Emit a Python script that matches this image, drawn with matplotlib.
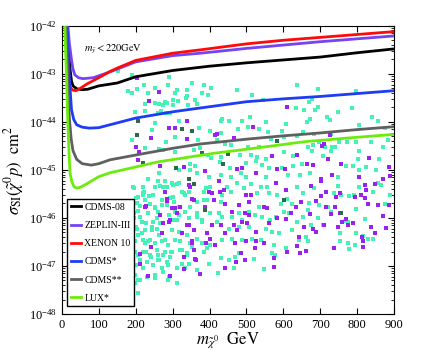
import matplotlib
matplotlib.use("Agg")
import matplotlib.pyplot as plt
import numpy as np
from matplotlib.ticker import FixedLocator, LogLocator, NullFormatter, MultipleLocator

plt.rcParams["mathtext.fontset"] = "stix"
plt.rcParams["font.family"] = ["Liberation Serif", "DejaVu Serif"]

# =========================
# Exclusion curves (mass in GeV, log10 sigma in cm^2)
# =========================
cdms08_mass = [15, 18, 22, 26, 30, 40, 55, 70, 100, 150, 200, 300, 400, 500, 600, 700, 800, 900]
cdms08_logsig = [-42.0, -42.5, -42.9, -43.15, -43.25, -43.31, -43.33, -43.32, -43.25, -43.19, -43.06,
                 -42.93, -42.84, -42.77, -42.71, -42.65, -42.56, -42.48]

zeplin_mass = [16, 20, 26, 30, 35, 45, 57, 85, 130, 200, 300, 375, 500, 600, 700, 800, 900]
zeplin_logsig = [-42.0, -42.35, -42.71, -42.9, -43.02, -43.08, -43.1, -43.08, -42.96, -42.75, -42.62,
                 -42.57, -42.47, -42.4, -42.33, -42.27, -42.21]

xenon_mass = [20, 24, 30, 38, 50, 68, 100, 130, 150, 200, 300, 375, 500, 600, 700, 800, 900]
xenon_logsig = [-43.2, -43.3, -43.34, -43.35, -43.3, -43.21, -43.08, -42.95, -42.88, -42.72, -42.57,
                -42.5, -42.375, -42.3, -42.24, -42.18, -42.12]

cdms_s_mass = [14, 16, 19, 22, 26, 32, 40, 55, 75, 100, 130, 200, 300, 375, 500, 600, 700, 800, 900]
cdms_s_logsig = [-42.0, -42.4, -42.9, -43.3, -43.75, -43.95, -44.06, -44.11, -44.13, -44.12, -44.06,
                 -43.92, -43.79, -43.71, -43.58, -43.52, -43.47, -43.41, -43.35]

cdms_ss_mass = [12, 14, 17, 20, 25, 30, 40, 55, 80, 100, 130, 200, 300, 375, 500, 600, 700, 800, 900]
cdms_ss_logsig = [-42.0, -42.6, -43.4, -43.9, -44.35, -44.6, -44.78, -44.87, -44.9, -44.87, -44.79,
                  -44.69, -44.55, -44.46, -44.36, -44.29, -44.23, -44.16, -44.1]

lux_mass = [8, 10, 13, 16, 19, 22, 27, 33, 40, 50, 65, 100, 130, 176, 262, 415, 500, 660, 800, 900]
lux_logsig = [-42.0, -42.5, -43.2, -44.0, -44.6, -45.06, -45.25, -45.35, -45.38, -45.36, -45.3,
              -45.14, -45.06, -44.98, -44.83, -44.65, -44.57, -44.41, -44.32, -44.26]

# =========================
# Scan points (mass GeV, log10 sigma)
# =========================
cyan_pts = [
    (153, -42.94), (189, -43.02), (223, -43.23), (289, -43.07), (287, -43.23), (251, -43.29), (233, -43.40),
    (191, -43.40), (178, -43.35), (203, -43.32), (311, -43.34), (307, -43.40), (339, -43.34), (352, -43.18),
    (384, -43.23), (396, -43.43), (379, -43.40), (405, -43.30), (339, -43.46), (337, -43.51), (302, -43.54),
    (314, -43.56), (280, -43.58), (275, -43.65), (302, -43.65), (253, -43.61), (225, -43.63), (262, -43.63),
    (286, -43.61), (361, -43.54), (366, -43.63), (341, -43.65), (198, -43.80), (260, -43.82), (268, -43.77),
    (292, -43.81), (282, -43.82), (225, -43.77), (253, -44.03), (243, -44.17), (316, -43.99), (372, -44.12),
    (370, -44.38), (402, -44.20), (189, -44.38), (307, -44.32), (282, -44.41), (201, -44.53), (225, -44.55),
    (262, -44.57), (307, -44.62), (275, -44.59), (357, -44.59), (375, -44.55), (395, -44.69), (405, -44.76),
    (346, -44.88), (361, -44.92), (316, -45.00), (348, -45.00), (366, -45.07), (262, -45.07), (233, -45.18),
    (398, -45.14),
    (638, -43.23), (475, -43.34), (516, -43.43), (546, -43.54), (633, -43.72), (656, -43.75), (434, -43.93),
    (430, -43.99), (452, -43.98), (487, -43.99), (509, -43.90), (552, -44.01), (504, -44.10), (534, -44.15),
    (478, -44.15), (606, -44.05), (597, -44.18), (559, -44.22), (432, -44.24), (652, -44.22), (638, -44.29),
    (602, -44.32), (566, -44.36), (421, -44.38), (441, -44.45), (457, -44.49), (505, -44.53), (534, -44.53),
    (482, -44.69), (511, -44.69), (529, -44.74), (552, -44.78), (602, -44.63), (626, -44.72), (432, -44.74),
    (427, -44.83), (454, -44.95), (498, -44.85), (525, -44.81), (543, -44.90), (561, -44.95), (597, -44.97),
    (626, -44.92), (650, -44.88), (644, -45.11), (613, -45.11), (484, -45.07), (498, -45.15), (552, -45.15),
    (430, -45.11), (457, -45.14),
    (695, -43.32), (797, -43.36), (677, -43.53), (668, -43.59), (693, -43.68), (686, -43.75), (749, -43.79),
    (785, -43.72), (718, -43.90), (726, -43.96), (672, -43.95), (664, -44.01), (840, -43.89), (856, -43.98),
    (806, -44.06), (684, -44.25), (729, -44.26), (874, -44.13), (697, -44.41), (750, -44.41), (797, -44.41),
    (772, -44.41), (679, -44.48), (666, -44.53), (714, -44.53), (732, -44.53), (741, -44.53), (677, -44.60),
    (729, -44.61), (806, -44.60), (869, -44.53), (836, -44.41), (883, -44.38), (706, -44.72), (801, -44.78),
    (859, -44.78), (770, -44.92), (788, -44.92), (851, -45.00), (824, -44.93), (672, -45.06), (747, -45.14),
    (806, -45.00),
    (194, -45.38), (207, -45.56), (221, -45.49), (203, -45.68), (189, -45.73), (225, -45.63), (236, -45.54),
    (248, -45.52), (253, -45.35), (266, -45.34), (280, -45.24), (302, -45.31), (316, -45.28), (325, -45.45),
    (334, -45.52), (384, -45.45), (393, -45.63), (302, -45.56), (271, -45.63), (284, -45.73), (251, -45.80),
    (234, -45.89), (207, -45.85), (194, -46.01), (216, -46.08), (257, -46.01), (266, -46.11), (289, -45.94),
    (302, -46.04), (316, -45.94), (343, -46.01), (366, -45.97), (379, -46.08), (402, -45.90), (225, -46.25),
    (243, -46.18), (203, -46.22), (207, -46.36), (194, -46.49), (225, -46.53), (239, -46.46), (262, -46.36),
    (280, -46.46), (307, -46.46), (316, -46.29), (339, -46.36), (352, -46.60), (379, -46.53), (402, -46.56),
    (198, -46.70), (221, -46.70), (239, -46.77), (257, -46.67), (275, -46.77), (298, -46.70), (325, -46.67),
    (339, -46.74), (384, -46.70), (191, -46.84), (212, -46.88), (230, -46.91), (262, -46.88), (284, -46.91),
    (311, -47.05), (343, -46.95), (366, -47.08), (398, -46.95), (198, -47.19), (207, -47.29), (230, -47.22),
    (253, -47.26), (289, -47.22), (311, -47.36), (198, -47.36), (205, -47.57),
    (193, -45.35), (220, -45.35), (223, -45.47), (202, -45.59), (189, -45.70), (211, -45.75), (220, -45.52),
    (238, -45.70), (252, -45.77), (261, -45.87), (196, -45.90), (211, -45.97), (270, -45.73), (293, -45.59),
    (286, -45.35), (261, -45.24), (275, -45.35), (202, -46.18), (229, -46.11), (247, -46.08), (243, -46.25),
    (257, -46.22), (216, -46.32), (198, -46.49), (220, -46.46), (234, -46.49), (252, -46.53), (270, -46.49),
    (288, -46.56), (190, -46.81), (205, -46.77), (229, -46.70), (241, -46.81), (261, -46.77), (259, -46.88),
    (279, -46.70), (295, -46.70), (202, -46.98), (220, -47.05), (247, -46.98), (270, -47.05), (288, -46.98),
    (196, -47.19), (211, -47.29), (252, -47.19), (275, -47.12), (288, -47.29),
    (298, -45.28), (312, -45.29), (330, -45.49), (344, -45.45), (303, -45.66), (316, -45.77), (307, -45.87),
    (334, -45.87), (348, -45.77), (366, -45.66), (384, -45.63), (389, -45.38), (402, -45.35), (411, -45.63),
    (312, -46.04), (298, -46.25), (339, -46.15), (366, -45.90), (380, -46.04), (307, -46.46), (321, -46.49),
    (348, -46.53), (366, -46.43), (393, -46.63), (298, -46.70), (321, -46.67), (339, -46.77), (325, -46.95),
    (334, -47.05), (312, -47.05), (366, -47.08), (312, -47.36), (294, -46.81),
    (448, -45.35), (457, -45.45), (434, -45.52), (430, -45.66), (475, -45.28), (493, -45.38), (511, -45.29),
    (529, -45.49), (538, -45.35), (556, -45.35), (561, -45.49), (584, -45.52), (593, -45.70), (611, -45.61),
    (624, -45.70), (638, -45.35), (652, -45.49), (425, -45.90), (434, -45.97), (461, -45.97), (479, -45.90),
    (488, -46.04), (507, -45.87), (523, -45.94), (534, -45.77), (543, -45.97), (565, -46.04), (579, -45.97),
    (602, -45.87), (615, -45.90), (638, -46.08), (652, -45.97), (421, -46.08), (452, -46.22), (479, -46.18),
    (507, -46.18), (552, -46.22), (570, -46.29), (588, -46.32), (624, -46.25), (643, -46.46), (434, -46.46),
    (461, -46.43), (487, -46.45), (516, -46.43), (538, -46.46), (575, -46.56), (606, -46.63), (661, -46.39),
    (430, -46.84), (452, -46.88), (470, -46.82), (479, -46.74), (520, -46.86), (570, -46.74), (577, -46.77),
    (547, -47.07), (423, -47.14), (466, -47.05),
    (670, -45.68), (666, -45.83), (693, -46.01), (684, -45.38), (747, -45.33), (756, -45.52), (738, -45.49),
    (779, -45.54), (792, -45.52), (806, -45.35), (842, -45.45), (856, -45.28), (865, -45.31), (874, -45.71),
    (890, -45.52), (697, -45.73), (720, -45.77), (729, -45.87), (768, -46.06), (797, -45.82), (820, -46.03),
    (706, -46.15), (675, -46.15), (752, -46.32), (797, -46.32), (815, -46.38), (829, -46.43), (842, -46.43),
    (666, -46.49), (752, -46.49), (774, -46.53), (795, -46.56), (779, -46.65), (774, -46.08),
]

purple_pts = [
    (203, -43.09), (262, -43.38), (237, -43.56), (289, -44.13), (307, -44.12), (339, -43.98), (242, -44.34),
    (339, -44.36), (414, -44.27), (200, -44.52), (210, -44.62), (207, -44.79), (266, -44.92), (330, -44.93),
    (387, -45.02),
    (611, -43.70), (518, -44.11), (466, -44.34), (419, -44.25), (568, -44.70), (638, -44.69), (475, -44.99),
    (527, -45.06), (584, -44.98), (604, -44.99), (487, -44.95),
    (727, -44.27), (704, -44.50), (711, -44.47), (720, -44.78), (679, -44.90), (664, -44.88), (756, -44.88),
    (831, -44.76), (886, -44.93), (733, -45.11), (806, -45.14), (890, -45.12), (702, -45.18), (869, -45.18),
    (225, -45.77), (284, -45.61), (280, -45.45), (352, -45.61), (320, -45.78), (388, -45.77), (266, -45.94),
    (289, -46.08), (339, -46.15), (325, -46.32), (357, -46.25), (393, -46.32), (402, -46.43), (407, -46.15),
    (352, -46.53), (357, -46.67), (330, -46.82), (361, -46.86), (332, -47.07), (375, -47.17), (242, -46.60),
    (212, -46.75), (212, -46.95), (233, -47.21), (293, -47.21), (343, -45.31), (398, -45.47), (411, -45.63),
    (273, -46.10), (286, -45.64), (272, -46.32), (297, -45.80), (293, -46.04), (229, -45.75),
    (348, -45.35), (407, -45.49), (357, -45.63), (321, -45.77), (307, -45.80), (344, -46.15), (389, -46.53),
    (353, -46.49), (362, -46.88), (312, -45.90),
    (425, -45.24), (439, -45.42), (427, -45.45), (441, -45.70), (498, -45.52), (511, -45.52), (507, -45.66),
    (479, -45.73), (461, -45.87), (496, -45.90), (507, -45.94), (547, -45.78), (556, -45.80), (488, -46.08),
    (502, -46.11), (466, -46.15), (432, -46.15), (443, -46.32), (475, -46.25), (525, -46.29), (561, -46.11),
    (584, -46.01), (606, -46.03), (620, -45.90), (633, -45.77), (647, -45.66), (606, -45.42), (579, -45.28),
    (525, -46.49), (498, -46.49), (470, -46.53), (523, -46.63), (547, -46.53), (484, -46.72), (496, -46.88),
    (472, -46.91), (575, -46.84), (611, -46.70), (641, -46.40), (638, -46.58), (644, -46.74), (656, -46.18),
    (441, -47.05), (575, -47.03), (416, -46.56),
    (702, -45.24), (675, -45.34), (715, -45.45), (702, -45.54), (688, -45.64), (743, -45.56), (752, -45.49),
    (795, -45.56), (811, -45.52), (824, -45.42), (820, -45.31), (847, -45.29), (829, -45.70), (822, -45.59),
    (856, -45.73), (869, -45.96), (887, -45.73), (672, -45.92), (729, -45.92), (715, -45.77), (741, -45.77),
    (752, -45.90), (759, -46.08), (770, -46.03), (774, -46.15), (788, -46.11), (711, -46.15), (681, -46.22),
    (688, -46.29), (747, -46.18), (813, -46.39), (815, -46.49), (815, -46.60), (838, -46.18), (849, -46.32),
    (877, -46.20), (738, -46.63), (661, -46.68),
]

dark_pts = [
    (205, -43.99), (352, -44.20), (325, -44.15), (203, -44.27), (379, -44.64), (221, -44.86), (310, -44.95),
    (343, -45.18), (582, -44.40), (450, -44.67), (436, -44.88), (388, -45.84), (357, -45.29), (602, -45.63),
    (756, -45.90),
]

decades = [-48, -47, -46, -45, -44, -43, -42]

curves = [
    ("CDMS-08", cdms08_mass, cdms08_logsig, "#000000"),
    ("ZEPLIN-III", zeplin_mass, zeplin_logsig, "#7444f4"),
    ("XENON 10", xenon_mass, xenon_logsig, "#ff0a0a"),
    ("CDMS*", cdms_s_mass, cdms_s_logsig, "#1e3cf5"),
    ("CDMS**", cdms_ss_mass, cdms_ss_logsig, "#606060"),
    ("LUX*", lux_mass, lux_logsig, "#6cec0c"),
]


def scatter_pts(ax, pts, color):
    m = np.array([p[0] for p in pts])
    s = 10.0 ** np.array([p[1] for p in pts])
    ax.scatter(m, s, s=5.5, marker="s", c=color, linewidths=0, zorder=2)


fig = plt.figure(figsize=(4.36, 3.54), dpi=100)
ax = fig.add_axes([0.142, 0.113, 0.762, 0.814])

scatter_pts(ax, cyan_pts, "#44f2b8")
scatter_pts(ax, purple_pts, "#9a22f0")
scatter_pts(ax, dark_pts, "#2f6a48")

for name, mass, logsig, color in curves:
    ax.plot(mass, 10.0 ** np.array(logsig), color=color, lw=2.0, label=name, zorder=3)

ax.set_yscale("log")
ax.set_xlim(0, 900)
ax.set_ylim(1e-48, 1e-42)
ax.xaxis.set_major_locator(MultipleLocator(100))
ax.yaxis.set_major_locator(FixedLocator([10.0 ** d for d in decades]))
ax.yaxis.set_minor_locator(LogLocator(base=10, subs=np.arange(2, 10), numticks=20))
ax.yaxis.set_minor_formatter(NullFormatter())
ax.tick_params(which="both", direction="in", top=True, right=True, labelsize=9)
ax.tick_params(which="major", length=4)
ax.tick_params(which="minor", length=2)

ax.text(60, 10 ** -42.54, r"$m_{\tilde{y}} < 220{\rm GeV}$", fontsize=7.5)

ax.set_xlabel(r"$m_{\tilde{\chi}^0}\ \ {\rm GeV}$", fontsize=12, labelpad=0)
ax.set_ylabel(r"$\sigma_{\rm SI}(\tilde{\chi}^0 p)\ \ {\rm cm}^2$", fontsize=12, labelpad=2)

leg = ax.legend(loc="lower left", bbox_to_anchor=(0.01, 0.02), fontsize=7, handlelength=1.1,
                handletextpad=0.3, borderpad=0.35, labelspacing=0.95, fancybox=False, framealpha=1,
                borderaxespad=0.2)
leg.get_frame().set_edgecolor("black")
leg.get_frame().set_linewidth(1.0)

fig.savefig("out.png", dpi=100)
